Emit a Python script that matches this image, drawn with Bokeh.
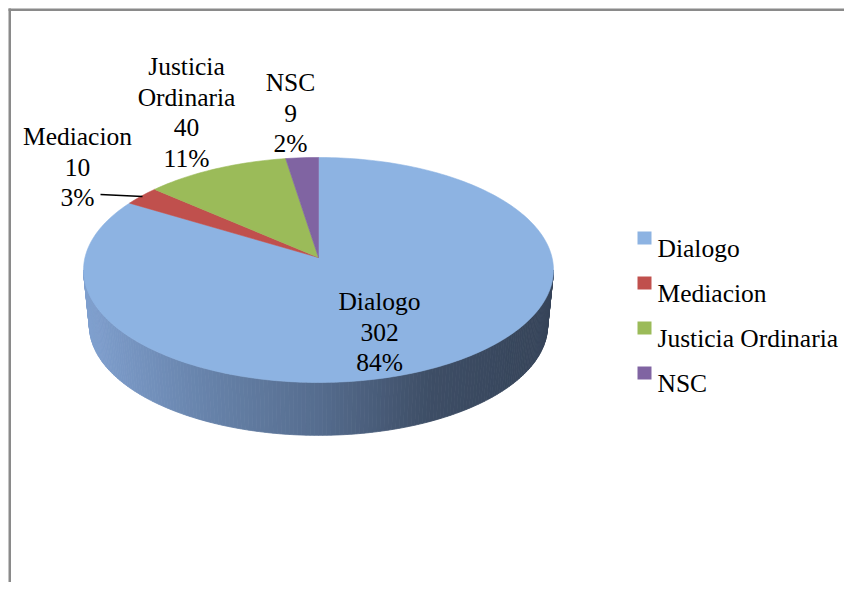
import numpy as np
from bokeh.plotting import figure
from bokeh.models import Range1d
from bokeh.core.properties import value
from bokeh.embed import file_html
from bokeh.resources import INLINE

# ---- data ----
categories = ["Dialogo", "Mediacion", "Justicia Ordinaria", "NSC"]
counts = [302, 10, 40, 9]
colors = ["#8DB3E2", "#C0504D", "#9BBB59", "#8064A2"]
label_first_lines = [["Dialogo"], ["Mediacion"], ["Justicia", "Ordinaria"], ["NSC"]]

total = sum(counts)
pcts = [round(c / total * 100) for c in counts]

# ---- layout ----
W, H = 844, 582
FONT = value("'Liberation Serif', 'Times New Roman', serif")
FS = "25.5px"

p = figure(width=W, height=H, x_range=Range1d(0, W), y_range=Range1d(H, 0),
           output_backend="svg", toolbar_location=None,
           x_axis_type=None, y_axis_type=None, min_border=0)
p.outline_line_color = None
p.background_fill_color = "white"
p.border_fill_color = "white"

# perspective projection of a disk (theta clockwise from far/top point)
CX, CY = 318.0, 257.0
A, B, K = 233.5, 111.1, 0.111


def proj(theta, scale=1.0, dy=0.0):
    u = np.sin(theta)
    v = np.cos(theta)
    d = 1 + K * v
    return CX + scale * A * u / d, CY + dy - scale * B * v / d


# ---- side (front rim of the Dialogo slice) with gradient ----
BS, BDY = 0.975, 56.0
t_lo = np.arccos(-K)
t_hi = 2 * np.pi - t_lo
N = 180
ts = np.linspace(t_lo, t_hi, N + 1)
stop_x = [83, 200, 318, 430, 553]
stop_r = [128, 104, 86, 62, 54]
stop_g = [160, 132, 109, 78, 68]
stop_b = [207, 172, 143, 102, 89]
sxs, sys_, scols = [], [], []
for i in range(N):
    a0, a1 = ts[i], ts[i + 1]
    x0t, y0t = proj(a0)
    x1t, y1t = proj(a1)
    x0b, y0b = proj(a0, BS, BDY)
    x1b, y1b = proj(a1, BS, BDY)
    sxs.append([x0t, x1t, x1b, x0b])
    sys_.append([y0t, y1t, y1b, y0b])
    xm = (x0t + x1t) / 2
    r = int(np.interp(xm, stop_x, stop_r))
    g = int(np.interp(xm, stop_x, stop_g))
    b = int(np.interp(xm, stop_x, stop_b))
    scols.append("#%02x%02x%02x" % (r, g, b))
p.patches(sxs, sys_, fill_color=scols, line_color=scols, line_width=0.8)

# ---- top face slices ----
cum = np.cumsum([0] + counts) / total * 2 * np.pi
txs, tys = [], []
for i in range(len(counts)):
    a = np.linspace(cum[i], cum[i + 1], max(4, int(300 * counts[i] / total)))
    xr, yr = proj(a)
    txs.append([CX] + list(xr))
    tys.append([CY] + list(yr))
p.patches(txs, tys, fill_color=colors, line_color=colors, line_width=0.6)

# ---- border (top & left visible) ----
p.segment(x0=[8, 9.25], y0=[9.25, 8], x1=[900, 9.25], y1=[9.25, 900],
          line_color="#8a8a8a", line_width=2.5)

# ---- data labels ----
label_pos = [(379, 301), (77, 136), (186, 66), (290, 82)]
LS = 30.5
lx, ly, lt = [], [], []
for i in range(len(categories)):
    lines = label_first_lines[i] + [str(counts[i]), f"{pcts[i]}%"]
    x0, y0 = label_pos[i]
    for j, s in enumerate(lines):
        lx.append(x0)
        ly.append(y0 + j * LS)
        lt.append(s)
p.text(x=lx, y=ly, text=lt, text_font=FONT, text_font_size=FS,
       text_align="center", text_baseline="alphabetic", text_color="black")

# leader line for Mediacion
p.line(x=[100, 142], y=[194, 196], line_color="black", line_width=1.6)

# ---- legend ----
lg_y = [237.5 + 45 * i for i in range(len(categories))]
p.rect(x=[644] * len(categories), y=lg_y, width=14, height=13,
       fill_color=colors, line_color=None)
p.text(x=[657] * len(categories), y=[y + 10.5 for y in lg_y], text=categories,
       text_font=FONT, text_font_size=FS, text_align="left",
       text_baseline="alphabetic", text_color="black")

open("out.html", "w").write(file_html(p, INLINE))
